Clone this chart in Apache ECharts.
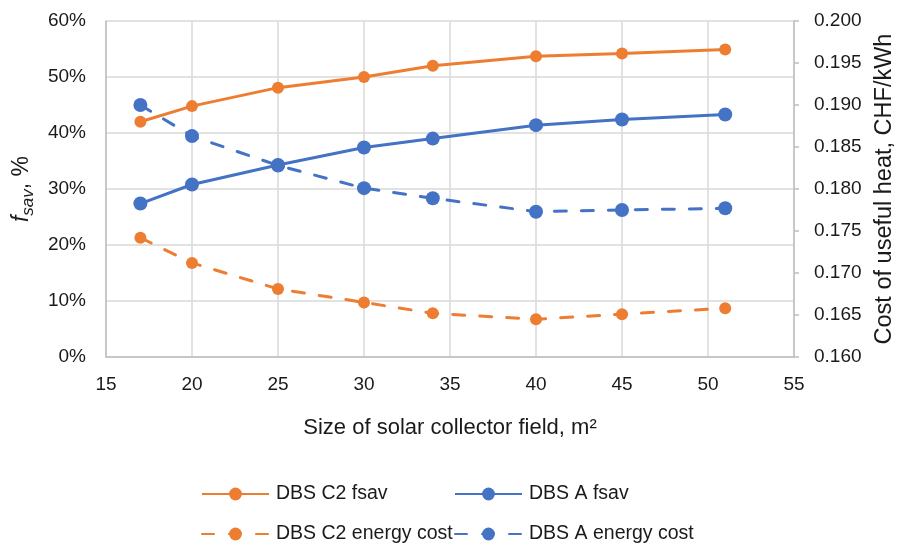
<!DOCTYPE html>
<html>
<head>
<meta charset="utf-8">
<script src="https://cdn.jsdelivr.net/npm/echarts@6/dist/echarts.min.js"></script>
<style>html,body{margin:0;padding:0;background:#fff}#c{width:900px;height:550px}</style>
</head>
<body>
<div id="c"></div>
<script>
const xValues = [17, 20, 25, 30, 34, 40, 45, 51];
const c2Fsav = [42.0, 44.8, 48.1, 50.0, 52.0, 53.7, 54.2, 54.9];
const aFsav = [27.4, 30.8, 34.3, 37.4, 39.0, 41.4, 42.4, 43.3];
const c2Cost = [0.1742, 0.1712, 0.1681, 0.1665, 0.1652, 0.1645, 0.1651, 0.1658];
const aCost = [0.1900, 0.1863, 0.1828, 0.1801, 0.1789, 0.1773, 0.1775, 0.1777];
const seriesNames = ['DBS C2 fsav', 'DBS A fsav', 'DBS C2 energy cost', 'DBS A energy cost'];

const ORANGE = '#ED7D31', BLUE = '#4472C4';
const FONT = '"Liberation Sans", Arial, sans-serif';
const TXT = '#1a1a1a';
const pairs = (ys) => xValues.map((x, i) => [x, ys[i]]);

const chart = echarts.init(document.getElementById('c'), null, {renderer: 'canvas'});
const legendBase = {
  orient: 'horizontal', itemWidth: 67, itemHeight: 16, itemGap: 0, padding: 0,
  textStyle: {fontFamily: FONT, fontSize: 19.5, color: TXT, padding: [0, 0, 0, 2]}
};
chart.setOption({
  animation: false,
  textStyle: {fontFamily: FONT},
  grid: {left: 106, right: 106, top: 21, bottom: 193, containLabel: false, outerBoundsMode: 'none'},
  legend: [
    Object.assign({}, legendBase, {data: [seriesNames[0]], left: 201, top: 484}),
    Object.assign({}, legendBase, {data: [seriesNames[1]], left: 454, top: 484}),
    Object.assign({}, legendBase, {data: [seriesNames[2]], left: 201, top: 524}),
    Object.assign({}, legendBase, {data: [seriesNames[3]], left: 454, top: 524})
  ],
  xAxis: {
    type: 'value', min: 15, max: 55, interval: 5,
    name: 'Size of solar collector field, m²', nameLocation: 'middle', nameGap: 60,
    nameTextStyle: {fontSize: 22, color: TXT, fontFamily: FONT},
    axisLine: {show: true, lineStyle: {color: '#bfbfbf', width: 1.5}},
    axisTick: {show: false},
    axisLabel: {fontSize: 19, color: TXT, margin: 18, fontFamily: FONT},
    splitLine: {show: true, lineStyle: {color: '#d9d9d9', width: 1.5}}
  },
  yAxis: [
    {
      type: 'value', min: 0, max: 60, interval: 10, position: 'left',
      name: '{i|f}{s|sav}{n|, %}', nameLocation: 'middle', nameGap: 62, nameRotate: 90,
      nameTextStyle: {
        fontSize: 23, color: TXT, fontFamily: FONT,
        rich: {
          i: {fontSize: 23, fontStyle: 'italic', color: TXT, fontFamily: FONT},
          s: {fontSize: 17, fontStyle: 'italic', color: TXT, fontFamily: FONT, padding: [13, 0, 0, 0]},
          n: {fontSize: 23, color: TXT, fontFamily: FONT}
        }
      },
      axisLine: {show: true, lineStyle: {color: '#bfbfbf', width: 1.5}},
      axisTick: {show: false},
      axisLabel: {fontSize: 19, color: TXT, margin: 20, fontFamily: FONT, formatter: v => v + '%'},
      splitLine: {show: true, lineStyle: {color: '#d9d9d9', width: 1.5}}
    },
    {
      type: 'value', min: 0.16, max: 0.2, interval: 0.005, position: 'right',
      name: 'Cost of useful heat, CHF/kWh', nameLocation: 'middle', nameGap: 79, nameRotate: 90,
      nameTextStyle: {fontSize: 23.5, color: TXT, fontFamily: FONT},
      axisLine: {show: true, lineStyle: {color: '#bfbfbf', width: 1.5}},
      axisTick: {show: true, length: 5, lineStyle: {color: '#bfbfbf', width: 1.5}},
      axisLabel: {fontSize: 19, color: TXT, margin: 20, fontFamily: FONT, formatter: v => v.toFixed(3)},
      splitLine: {show: false}
    }
  ],
  series: [
    {name: seriesNames[0], type: 'line', yAxisIndex: 0, data: pairs(c2Fsav), symbol: 'circle', symbolSize: 12,
      itemStyle: {color: ORANGE}, lineStyle: {color: ORANGE, width: 3}},
    {name: seriesNames[1], type: 'line', yAxisIndex: 0, data: pairs(aFsav), symbol: 'circle', symbolSize: 14,
      itemStyle: {color: BLUE}, lineStyle: {color: BLUE, width: 3}},
    {name: seriesNames[2], type: 'line', yAxisIndex: 1, data: pairs(c2Cost), symbol: 'circle', symbolSize: 12,
      itemStyle: {color: ORANGE}, lineStyle: {color: ORANGE, width: 3, type: [12, 15], cap: 'round'}},
    {name: seriesNames[3], type: 'line', yAxisIndex: 1, data: pairs(aCost), symbol: 'circle', symbolSize: 14,
      itemStyle: {color: BLUE}, lineStyle: {color: BLUE, width: 3, type: [12, 15], cap: 'round'}}
  ]
});
</script>
</body>
</html>
